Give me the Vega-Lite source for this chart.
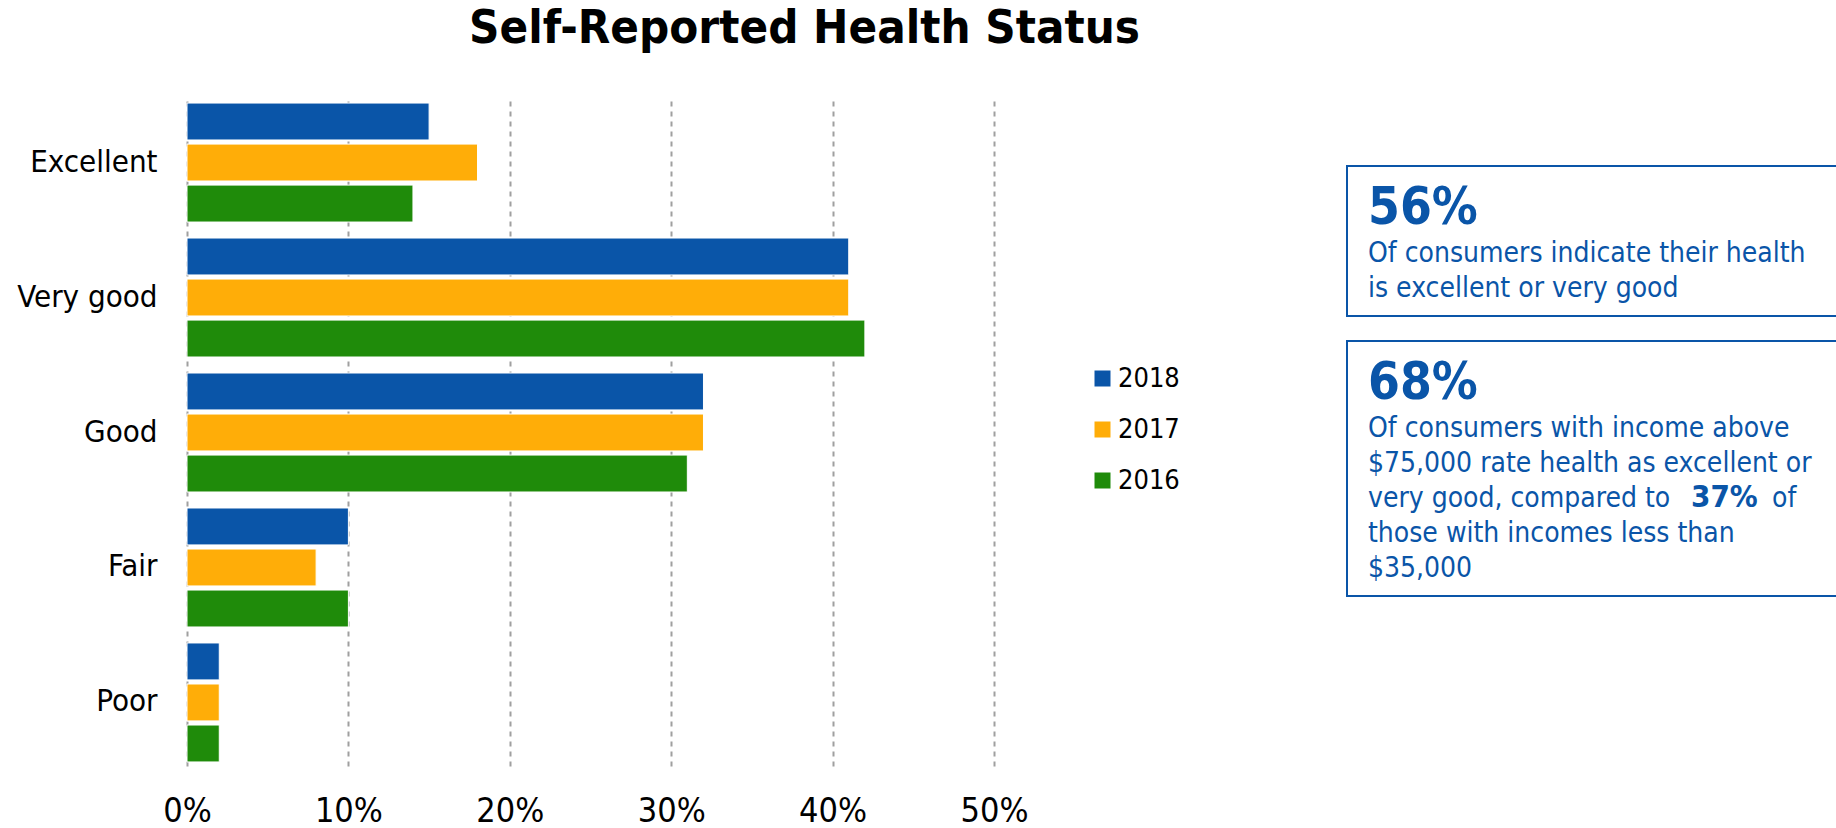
{
  "$schema": "https://vega.github.io/schema/vega-lite/v6.json",
  "autosize": {"type": "none"},
  "padding": {"left": 187, "top": 99, "right": 842, "bottom": 62},
  "width": 807,
  "height": 667,
  "background": "white",
  "config": {"view": {"stroke": null}, "font": "DejaVu Sans Condensed"},
  "title": {
    "text": "Self-Reported Health Status",
    "anchor": "middle",
    "frame": "group",
    "dx": 214,
    "offset": 46,
    "fontSize": 47,
    "font": "DejaVu Sans Condensed",
    "fontWeight": "bold",
    "color": "#000000"
  },
  "datasets": {
    "health": [
      {"status": "Excellent", "year": "2018", "value": 0.15},
      {"status": "Excellent", "year": "2017", "value": 0.18},
      {"status": "Excellent", "year": "2016", "value": 0.14},
      {"status": "Very good", "year": "2018", "value": 0.41},
      {"status": "Very good", "year": "2017", "value": 0.41},
      {"status": "Very good", "year": "2016", "value": 0.42},
      {"status": "Good", "year": "2018", "value": 0.32},
      {"status": "Good", "year": "2017", "value": 0.32},
      {"status": "Good", "year": "2016", "value": 0.31},
      {"status": "Fair", "year": "2018", "value": 0.10},
      {"status": "Fair", "year": "2017", "value": 0.08},
      {"status": "Fair", "year": "2016", "value": 0.10},
      {"status": "Poor", "year": "2018", "value": 0.02},
      {"status": "Poor", "year": "2017", "value": 0.02},
      {"status": "Poor", "year": "2016", "value": 0.02}
    ],
    "notes": [
      {"box": 1, "line": 0, "kind": "head", "text": "56%"},
      {"box": 1, "line": 1, "kind": "body", "text": "Of consumers indicate their health"},
      {"box": 1, "line": 2, "kind": "body", "text": "is excellent or very good"},
      {"box": 2, "line": 5, "kind": "head", "text": "68%"},
      {"box": 2, "line": 6, "kind": "body", "text": "Of consumers with income above"},
      {"box": 2, "line": 7, "kind": "body", "text": "$75,000 rate health as excellent or"},
      {"box": 2, "line": 8, "kind": "body", "text": "very good, compared to"},
      {"box": 2, "line": 8, "kind": "bold", "text": "37%"},
      {"box": 2, "line": 8, "kind": "after", "text": "of"},
      {"box": 2, "line": 9, "kind": "body", "text": "those with incomes less than"},
      {"box": 2, "line": 10, "kind": "body", "text": "$35,000"}
    ]
  },
  "layer": [
    {
      "data": {"name": "health"},
      "mark": {"type": "bar", "stroke": "white", "strokeWidth": 1},
      "encoding": {
        "y": {
          "field": "status",
          "type": "nominal",
          "sort": ["Excellent", "Very good", "Good", "Fair", "Poor"],
          "scale": {"paddingInner": 0.1185, "paddingOuter": 0.03},
          "axis": {
            "title": null,
            "ticks": false,
            "domain": false,
            "labelFontSize": 31,
            "labelPadding": 30,
            "labelColor": "#000000",
            "labelFont": "DejaVu Sans Condensed"
          }
        },
        "yOffset": {
          "field": "year",
          "type": "nominal",
          "sort": ["2018", "2017", "2016"],
          "scale": {"paddingInner": 0.1}
        },
        "x": {
          "field": "value",
          "type": "quantitative",
          "scale": {"domain": [0, 0.5], "nice": false},
          "axis": {
            "title": null,
            "format": ".0%",
            "values": [0, 0.1, 0.2, 0.3, 0.4, 0.5],
            "grid": true,
            "gridDash": [5, 5],
            "gridColor": "#a0a0a0",
            "gridWidth": 2,
            "domain": false,
            "ticks": false,
            "labelFlush": false,
            "labelFontSize": 34,
            "labelPadding": 28,
            "labelColor": "#000000",
            "labelFont": "DejaVu Sans Condensed"
          }
        },
        "color": {
          "field": "year",
          "type": "nominal",
          "scale": {"domain": ["2018", "2017", "2016"], "range": ["#0A55A8", "#FFAD08", "#1F8B0A"]},
          "legend": {
            "orient": "none",
            "legendX": 902,
            "legendY": 266,
            "title": null,
            "symbolType": "square",
            "symbolSize": 256,
            "symbolStrokeWidth": 0,
            "labelFontSize": 27,
            "labelFont": "DejaVu Sans Condensed",
            "labelColor": "#000000",
            "labelOffset": 2,
            "rowPadding": 23,
            "padding": 0
          }
        }
      }
    },
    {
      "data": {"name": "notes"},
      "transform": [
        {"aggregate": [{"op": "min", "field": "line", "as": "lo"}, {"op": "max", "field": "line", "as": "hi"}], "groupby": ["box"]}
      ],
      "mark": {"type": "rect", "filled": false, "stroke": "#0A55A8", "strokeWidth": 2, "yOffset": -61, "y2Offset": 19},
      "encoding": {
        "x": {"value": 1160},
        "x2": {"value": 1700},
        "y": {"field": "lo", "type": "quantitative", "scale": {"domain": [-3.657, 15.4], "reverse": true, "nice": false, "zero": false}, "axis": null},
        "y2": {"field": "hi"}
      }
    },
    {
      "data": {"name": "notes"},
      "transform": [{"filter": "datum.kind === 'head'"}],
      "mark": {"type": "text", "align": "left", "baseline": "alphabetic", "font": "DejaVu Sans Condensed", "fontWeight": "bold", "fontSize": 51, "color": "#0A55A8", "dy": -3},
      "encoding": {
        "x": {"value": 1181},
        "y": {"field": "line", "type": "quantitative", "scale": {"domain": [-3.657, 15.4], "reverse": true, "nice": false, "zero": false}, "axis": null},
        "text": {"field": "text"}
      }
    },
    {
      "data": {"name": "notes"},
      "transform": [{"filter": "datum.kind === 'body'"}],
      "mark": {"type": "text", "align": "left", "baseline": "alphabetic", "font": "DejaVu Sans Condensed", "fontSize": 28, "color": "#0A55A8"},
      "encoding": {
        "x": {"value": 1181},
        "y": {"field": "line", "type": "quantitative", "scale": {"domain": [-3.657, 15.4], "reverse": true, "nice": false, "zero": false}, "axis": null},
        "text": {"field": "text"}
      }
    },
    {
      "data": {"name": "notes"},
      "transform": [{"filter": "datum.kind === 'bold'"}],
      "mark": {"type": "text", "align": "left", "baseline": "alphabetic", "font": "DejaVu Sans Condensed", "fontWeight": "bold", "fontSize": 31, "color": "#0A55A8", "dx": 323},
      "encoding": {
        "x": {"value": 1181},
        "y": {"field": "line", "type": "quantitative", "scale": {"domain": [-3.657, 15.4], "reverse": true, "nice": false, "zero": false}, "axis": null},
        "text": {"field": "text"}
      }
    },
    {
      "data": {"name": "notes"},
      "transform": [{"filter": "datum.kind === 'after'"}],
      "mark": {"type": "text", "align": "left", "baseline": "alphabetic", "font": "DejaVu Sans Condensed", "fontSize": 28, "color": "#0A55A8", "dx": 404},
      "encoding": {
        "x": {"value": 1181},
        "y": {"field": "line", "type": "quantitative", "scale": {"domain": [-3.657, 15.4], "reverse": true, "nice": false, "zero": false}, "axis": null},
        "text": {"field": "text"}
      }
    }
  ],
  "resolve": {"scale": {"x": "independent", "y": "independent"}}
}
